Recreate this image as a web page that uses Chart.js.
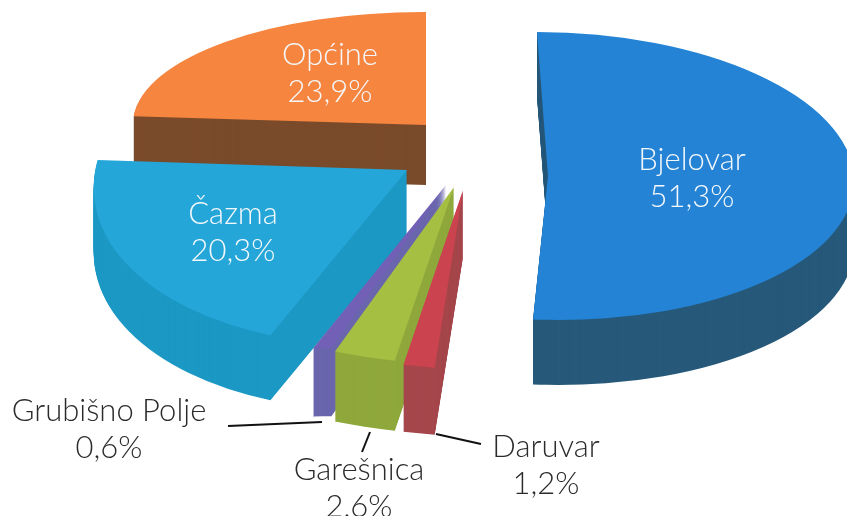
<!DOCTYPE html>
<html><head><meta charset="utf-8">
<style>html,body{margin:0;padding:0;background:#fff}canvas{display:block}</style>
<script src="https://cdn.jsdelivr.net/npm/chart.js@4"></script>
</head><body><canvas id="c" width="847" height="516"></canvas>
<script>
const categories = ["Bjelovar","Daruvar","Garešnica","Grubišno Polje","Čazma","Općine"];
const shares = [51.3,1.2,2.6,0.6,20.3,23.9];

const topColors  = ["#2483d4","#cb434e","#a4bf42","#7160b6","#25a6d9","#f6853f"];
const sideColors = ["#27597a","#a5474c","#8fa83c","#6a66ad","#1c98c4","#7a4b2b"];
// faux-3D projection of each exploded slice: apex, x-vector, y-vector, extrusion
const look = [
  {ax:548,ay:176,a:306,b:11,c:0,d:144,h:65},
  {ax:463,ay:190,a:416,b:7,c:19,d:180,h:67},
  {ax:454,ay:187,a:377,b:1,c:13,d:178,h:70},
  {ax:446,ay:185,a:500,b:47,c:-60,d:152,h:68},
  {ax:407,ay:170,a:312,b:-28,c:-2,d:176,h:65},
  {ax:426,ay:125,a:293,b:0,c:1,d:113,h:60}
];
const paintOrder = [5,0,4,3,2,1];
const labelPos = [
  {x:692,y:160,out:false},{x:546,y:447,out:true},{x:359,y:470,out:true},
  {x:109,y:411,out:true},{x:233,y:214,out:false},{x:330,y:55,out:false}
];
const leaders = [[228,426,322,422],[370,432,362,452],[436,434,481,444]];

const fake3d = {
  id:'fake3d',
  beforeDatasetDraw(chart,args){
    const ctx = chart.ctx, arcs = chart.getDatasetMeta(0).data;
    const paint = (i,dy,color)=>{
      const arc = arcs[i], s = look[i], R = arc.outerRadius;
      const saved = arc.options;
      arc.options = Object.assign({},saved,{backgroundColor:color,borderWidth:0,offset:0,spacing:0});
      ctx.save();
      ctx.transform(s.a/R,s.c/R,s.b/R,s.d/R,s.ax,s.ay+dy);
      ctx.translate(-arc.x,-arc.y);
      arc.draw(ctx);
      ctx.restore();
      arc.options = saved;
    };
    paintOrder.forEach(i=>{
      for(let k=look[i].h;k>0;k--) paint(i,k,sideColors[i]);
      paint(i,0,topColors[i]);
    });
    return false;
  },
  afterDraw(chart){
    const ctx = chart.ctx;
    ctx.save();
    ctx.strokeStyle='#111';ctx.lineWidth=2;
    leaders.forEach(l=>{ctx.beginPath();ctx.moveTo(l[0],l[1]);ctx.lineTo(l[2],l[3]);ctx.stroke();});
    ctx.textAlign='center';ctx.textBaseline='middle';
    ctx.font='300 31px Lato';
    categories.forEach((name,i)=>{
      const p=labelPos[i];
      ctx.fillStyle=p.out?'#2b2b2b':'#f4f8fb';
      ctx.fillText(name,p.x,p.y);
      ctx.fillText(shares[i].toFixed(1).replace('.',',')+'%',p.x,p.y+37);
    });
    ctx.restore();
  }
};

new Chart(document.getElementById('c'),{
  type:'pie',
  data:{labels:categories,datasets:[{data:shares,backgroundColor:topColors,borderWidth:0}]},
  options:{responsive:false,animation:false,events:[],
    plugins:{legend:{display:false},tooltip:{enabled:false}}},
  plugins:[fake3d]
});
</script></body></html>
